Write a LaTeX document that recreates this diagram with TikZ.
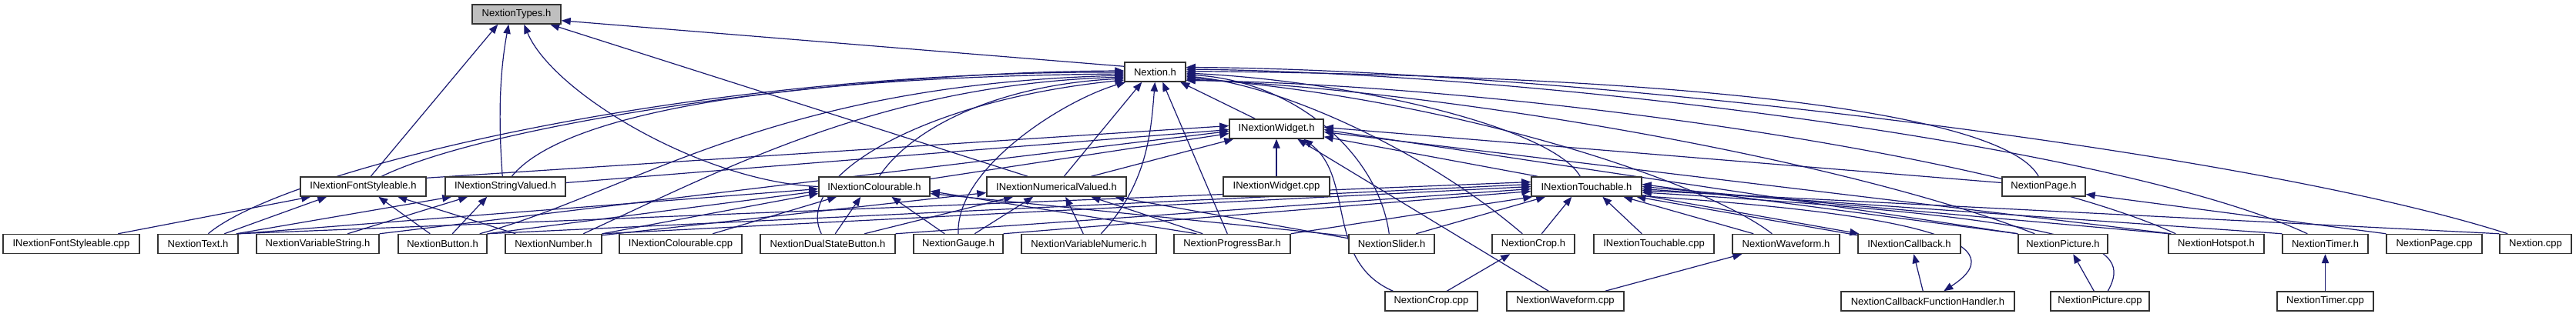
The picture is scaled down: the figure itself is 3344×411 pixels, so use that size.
\documentclass[tikz,border=0pt]{standalone}
\usepackage{fontspec}
\setmainfont{Liberation Sans}
\usetikzlibrary{arrows.meta,calc}
\definecolor{edgec}{RGB}{25,25,112}
\definecolor{boxc}{RGB}{51,51,51}
\definecolor{rootfill}{RGB}{191,191,191}
\pgfdeclarelayer{edgelayer}
\pgfsetlayers{edgelayer,main}
\tikzset{
  box/.style={draw=boxc, line width=1.1pt, fill=white, inner sep=0pt, minimum height=18.75pt, font=\fontsize{9.75}{11}\selectfont},
  rootbox/.style={box, fill=rootfill},
  edge/.style={draw=edgec, line width=0.9pt, -{Triangle[length=9pt,width=7pt]}}
}
\begin{document}
\begin{tikzpicture}[x=0.75pt,y=0.75pt]
\useasboundingbox (0,0) rectangle (3344,-411);
% layer 0
\node[rootbox, minimum width=86.25pt] (types) at (670.5,-18.5) {NextionTypes.h};
\node[box, minimum width=59.25pt] (nextion) at (1499.5,-93.5) {Nextion.h};
\node[box, minimum width=91.5pt] (widget) at (1657,-167.5) {INextionWidget.h};
% layer 1
\node[box, minimum width=122.25pt] (fontsty) at (471.5,-242.5) {INextionFontStyleable.h};
\node[box, minimum width=117pt] (strval) at (656,-242.5) {INextionStringValued.h};
\node[box, minimum width=108pt] (colour) at (1135,-242.5) {INextionColourable.h};
\node[box, minimum width=135.75pt] (numval) at (1371.5,-242.5) {INextionNumericalValued.h};
\node[box, minimum width=103.5pt] (widgetcpp) at (1657,-242.5) {INextionWidget.cpp};
\node[box, minimum width=107.25pt] (touch) at (2059.5,-242.5) {INextionTouchable.h};
\node[box, minimum width=81pt] (page) at (2653,-242.5) {NextionPage.h};
% layer 2
\node[box, minimum width=132.75pt] (fontcpp) at (92.5,-317) {INextionFontStyleable.cpp};
\node[box, minimum width=78pt] (text) at (257,-317) {NextionText.h};
\node[box, minimum width=119.25pt] (varstr) at (412.5,-317) {NextionVariableString.h};
\node[box, minimum width=86.25pt] (button) at (574.5,-317) {NextionButton.h};
\node[box, minimum width=93.75pt] (number) at (718.5,-317) {NextionNumber.h};
\node[box, minimum width=119.25pt] (colcpp) at (883.5,-317) {INextionColourable.cpp};
\node[box, minimum width=131.25pt] (dual) at (1074.5,-317) {NextionDualStateButton.h};
\node[box, minimum width=87pt] (gauge) at (1244,-317) {NextionGauge.h};
\node[box, minimum width=131.25pt] (varnum) at (1413.5,-317) {NextionVariableNumeric.h};
\node[box, minimum width=113.25pt] (progress) at (1599.5,-317) {NextionProgressBar.h};
\node[box, minimum width=83.25pt] (slider) at (1806.5,-317) {NextionSlider.h};
\node[box, minimum width=80.25pt] (crop) at (1990.5,-317) {NextionCrop.h};
\node[box, minimum width=117pt] (touchcpp) at (2147,-317) {INextionTouchable.cpp};
\node[box, minimum width=104.25pt] (waveform) at (2318.5,-317) {NextionWaveform.h};
\node[box, minimum width=99.75pt] (callback) at (2478.5,-317) {INextionCallback.h};
\node[box, minimum width=87pt] (picture) at (2678,-317) {NextionPicture.h};
\node[box, minimum width=93pt] (hotspot) at (2877,-317) {NextionHotspot.h};
\node[box, minimum width=83.25pt] (timer) at (3018.5,-317) {NextionTimer.h};
\node[box, minimum width=93pt] (pagecpp) at (3160,-317) {NextionPage.cpp};
\node[box, minimum width=69.75pt] (nextioncpp) at (3291.5,-317) {Nextion.cpp};
% layer 3
\node[box, minimum width=90pt] (cropcpp) at (1858,-391.5) {NextionCrop.cpp};
\node[box, minimum width=114pt] (wavecpp) at (2032,-391.5) {NextionWaveform.cpp};
\node[box, minimum width=168.75pt] (cfh) at (2502.5,-391.5) {NextionCallbackFunctionHandler.h};
\node[box, minimum width=96pt] (piccpp) at (2726,-391.5) {NextionPicture.cpp};
\node[box, minimum width=93.75pt] (timercpp) at (3018.5,-391.5) {NextionTimer.cpp};

\begin{pgfonlayer}{edgelayer}
% ---- edges into NextionTypes.h
\draw[edge] ($(nextion.north west)+(0,-6)$) -- ($(types.south east)+(0,5)$);
\draw[edge] ($(fontsty.north west)+(92,0)$) -- ($(types.south west)+(34,0)$);
\draw[edge] ($(strval.north west)+(75,0)$) .. controls ($(strval.north west)+(69,80)$) and ($(types.south west)+(37,-59)$) .. ($(types.south west)+(48,0)$);
\draw[edge] (colour.west) .. controls ($(colour.west)+(-150,6)$) and ($(types.south west)+(105,-89)$) .. ($(types.south west)+(68,0)$);
\draw[edge] ($(numval.north west)+(54,0)$) -- ($(types.south west)+(102,0)$);

% ---- edges into Nextion.h (left side)
\draw[edge] ($(text.north west)+(66,0)$) .. controls ($(text.north west)+(165,84)$) and ($(nextion.west)+(-560,1.5)$) .. ($(nextion.west)+(0,-0.5)$);
\draw[edge] ($(fontsty.north west)+(106,0)$) .. controls ($(fontsty.north west)+(250,70)$) and ($(nextion.west)+(-360,0)$) .. ($(nextion.west)+(0,1.5)$);
\draw[edge] ($(strval.north west)+(87,0)$) .. controls ($(strval.north west)+(152,80)$) and ($(nextion.west)+(-460,-6.5)$) .. ($(nextion.west)+(0,-2.5)$);
\draw[edge] ($(button.north east)+(-10,0)$) .. controls ($(button.north east)+(188,54)$) and ($(nextion.west)+(-460,-16.5)$) .. ($(nextion.west)+(0,-4.5)$);
\draw[edge] ($(number.north west)+(102,0)$) .. controls ($(number.north west)+(294,89)$) and ($(nextion.west)+(-310,-16.5)$) .. ($(nextion.west)+(0,-6.5)$);
\draw[edge] ($(colour.north west)+(79,0)$) .. controls ($(colour.north west)+(122,65)$) and ($(nextion.west)+(-160,-16.5)$) .. ($(nextion.west)+(0,-8.5)$);
\draw[edge] ($(dual.north west)+(80,0)$) .. controls ($(dual.north west)+(43,74)$) and ($(nextion.west)+(-260,-36.5)$) .. ($(nextion.west)+(0,-10.5)$);
% bottom
\draw[edge] (gauge.north) .. controls ($(gauge.north)+(-4,84)$) and ($(nextion.south west)+(-80,-24)$) .. ($(nextion.south west)+(2,0)$);
\draw[edge] ($(numval.north west)+(101,0)$) -- ($(nextion.south west)+(23,0)$);
\draw[edge] ($(varnum.north west)+(104,0)$) .. controls ($(varnum.north west)+(164,64)$) and ($(nextion.south west)+(35,-64)$) .. ($(nextion.south west)+(40,0)$);
\draw[edge] ($(progress.north west)+(70,0)$) -- ($(nextion.south west)+(50,0)$);
\draw[edge] ($(widget.north west)+(34,0)$) -- ($(nextion.south west)+(73,0)$);
% right side
\draw[edge] ($(touch.north west)+(64,0)$) .. controls ($(touch.north west)+(27,65)$) and ($(nextion.east)+(211,-11.5)$) .. ($(nextion.east)+(0,-1.5)$);
\draw[edge] ($(slider.north west)+(53,0)$) .. controls ($(slider.north west)+(39,104)$) and ($(nextion.east)+(141,-11.5)$) .. ($(nextion.east)+(0,-3.5)$);
\draw[edge] ($(crop.north west)+(40,0)$) .. controls ($(crop.north west)+(-87,109)$) and ($(nextion.east)+(121,-16.5)$) .. ($(nextion.east)+(0,-5.5)$);
\draw[edge] ($(waveform.north west)+(52,0)$) .. controls ($(waveform.north west)+(-29,64)$) and ($(nextion.east)+(361,-36.5)$) .. ($(nextion.east)+(0,-7.5)$);
\draw[edge] ($(picture.north west)+(22,0)$) .. controls ($(picture.north west)+(-220,94)$) and ($(nextion.east)+(361,-26.5)$) .. ($(nextion.east)+(0,-9.5)$);
\draw[edge] ($(hotspot.north west)+(10,0)$) .. controls ($(hotspot.north west)+(-215,104)$) and ($(nextion.east)+(411,-16.5)$) .. ($(nextion.east)+(0,-11)$);
\draw[edge] ($(timer.north west)+(33,0)$) .. controls ($(timer.north west)+(-213,114)$) and ($(nextion.east)+(461,-1.5)$) .. ($(nextion.east)+(0,3.5)$);
\draw[edge] ($(nextioncpp.north west)+(11,0)$) .. controls ($(nextioncpp.north west)+(-345,114)$) and ($(nextion.east)+(461,3.5)$) .. ($(nextion.east)+(0,6)$);
\draw[edge] ($(page.north west)+(48,0)$) .. controls ($(page.north west)+(11,70)$) and ($(nextion.east)+(761,-6.5)$) .. ($(nextion.east)+(0,1)$);

% ---- edges into INextionWidget.h
\draw[edge] ($(fontsty.north east)+(0,-2)$) -- ($(widget.west)+(0,4)$);
\draw[edge] ($(strval.east)+(0,5)$) -- ($(widget.west)+(0,-1)$);
\draw[edge] (varstr.north east) -- ($(widget.west)+(0,-3)$);
\draw[edge] ($(colour.east)+(0,10)$) -- ($(widget.west)+(0,-6)$);
\draw[edge] ($(numval.north west)+(136,0)$) -- ($(widget.south west)+(6,0)$);
\draw[edge] (widgetcpp) -- (widget);
\draw[edge] ($(cropcpp.north west)+(11,0)$) .. controls ($(cropcpp.north west)+(-78,39)$) and ($(widget.south west)+(164,-50)$) .. ($(widget.south west)+(97,0)$);
\draw[edge] ($(wavecpp.north west)+(55,0)$) -- ($(widget.south west)+(89,0)$);
\draw[edge] ($(touch.north west)+(9,0)$) -- ($(widget.south east)+(0,3)$);
\draw[edge] ($(page.west)+(0,5)$) -- ($(widget.east)+(0,2)$);
\draw[edge] (picture.north west) -- ($(widget.east)+(0,-1)$);
\draw[edge] ($(hotspot.north west)+(4,0)$) -- ($(widget.east)+(0,-4)$);

% ---- edges into INextionTouchable.h
\draw[edge] (text.north east) -- ($(touch.west)+(0,6)$);
\draw[edge] (button.north east) -- ($(touch.west)+(0,3)$);
\draw[edge] (number.north east) -- ($(touch.west)+(0,0)$);
\draw[edge] (dual.north east) -- ($(touch.west)+(0,-3)$);
\draw[edge] (gauge.north east) -- ($(touch.west)+(0,-6)$);
\draw[edge] (progress.north east) -- ($(touch.south west)+(2,0)$);
\draw[edge] ($(slider.north west)+(88,0)$) -- ($(touch.south west)+(19,0)$);
\draw[edge] ($(crop.north west)+(65,0)$) -- ($(touch.south west)+(53,0)$);
\draw[edge] ($(touchcpp.north west)+(63,0)$) -- ($(touch.south west)+(93,0)$);
\draw[edge] ($(waveform.north west)+(28,0)$) -- ($(touch.south west)+(120,0)$);
\draw[edge] ($(callback.north west)+(0,-2)$) -- ($(touch.south west)+(137,0)$);
\draw[edge] (picture.north west) -- ($(touch.east)+(0,3)$);
\draw[edge] ($(hotspot.north west)+(2,0)$) -- ($(touch.east)+(0,0)$);
\draw[edge] (timer.north west) -- ($(touch.east)+(0,-3)$);
\draw[edge] (nextioncpp.north west) -- ($(touch.east)+(0,-5)$);
\draw[edge] ($(piccpp.north west)+(75,0)$) .. controls ($(piccpp.north west)+(108,59)$) and ($(touch.east)+(589,-42.5)$) .. ($(touch.east)+(0,-7.5)$);

% ---- callback handler
\draw[edge] ($(touch.south east)+(0,2)$) -- ($(callback.north west)+(2,0)$);
\draw[edge] ($(touch.south east)+(0,1)$) .. controls ($(touch.south east)+(319,-20)$) and ($(cfh.north west)+(240,69)$) .. ($(cfh.north west)+(134,0)$);
\draw[edge] ($(cfh.north west)+(107,0)$) -- ($(callback.south west)+(73,0)$);

% ---- INextionColourable.h
\draw[edge] (text.north east) -- ($(colour.west)+(0,-3)$);
\draw[edge] (button.north east) -- ($(colour.west)+(0,-6)$);
\draw[edge] (number.north east) -- ($(colour.west)+(0,-9)$);
\draw[edge] ($(colcpp.north west)+(122,0)$) -- ($(colour.south west)+(24,0)$);
\draw[edge] ($(dual.north west)+(98,0)$) -- ($(colour.south west)+(55,0)$);
\draw[edge] ($(gauge.north west)+(41,0)$) -- ($(colour.south west)+(95,0)$);
\draw[edge] ($(progress.north west)+(30,0)$) -- ($(colour.east)+(0,-6)$);
\draw[edge] ($(slider.north west)+(0,-3)$) -- ($(colour.east)+(0,-9)$);

% ---- INextionNumericalValued.h
\draw[edge] ($(number.north east)+(0,-2)$) -- ($(numval.west)+(0,-8)$);
\draw[edge] ($(dual.north west)+(136,0)$) -- ($(numval.south west)+(35,0)$);
\draw[edge] ($(gauge.north west)+(80,0)$) -- ($(numval.south west)+(61,0)$);
\draw[edge] ($(varnum.north west)+(81,0)$) -- ($(numval.south west)+(103,0)$);
\draw[edge] ($(progress.north west)+(38,0)$) -- ($(numval.south west)+(136,0)$);
\draw[edge] ($(slider.north west)+(0,-6)$) -- ($(numval.south west)+(167,0)$);

% ---- INextionFontStyleable.h
\draw[edge] ($(fontcpp.north west)+(150,0)$) -- ($(fontsty.south west)+(14,0)$);
\draw[edge] ($(text.north west)+(87,0)$) -- ($(fontsty.south west)+(35,0)$);
\draw[edge] ($(button.north west)+(42,0)$) -- ($(fontsty.south west)+(102,0)$);
\draw[edge] ($(number.north west)+(14,0)$) -- ($(fontsty.south west)+(127,0)$);

% ---- INextionStringValued.h
\draw[edge] ($(text.north east)+(-3,0)$) -- ($(strval.south west)+(9,0)$);
\draw[edge] ($(varstr.north west)+(119,0)$) -- ($(strval.south west)+(30,0)$);
\draw[edge] ($(button.north west)+(71,0)$) -- ($(strval.south west)+(55,0)$);

% ---- .cpp files
\draw[edge] ($(cropcpp.north west)+(81,0)$) -- ($(crop.south west)+(24,0)$);
\draw[edge] ($(wavecpp.north east)+(-25,0)$) -- ($(waveform.south west)+(13,0)$);
\draw[edge] ($(piccpp.north west)+(57,0)$) -- ($(picture.south west)+(72,0)$);
\draw[edge] (timercpp) -- (timer);
\draw[edge] (pagecpp.north west) -- ($(page.east)+(0,-10)$);
\end{pgfonlayer}
\end{tikzpicture}
\end{document}
